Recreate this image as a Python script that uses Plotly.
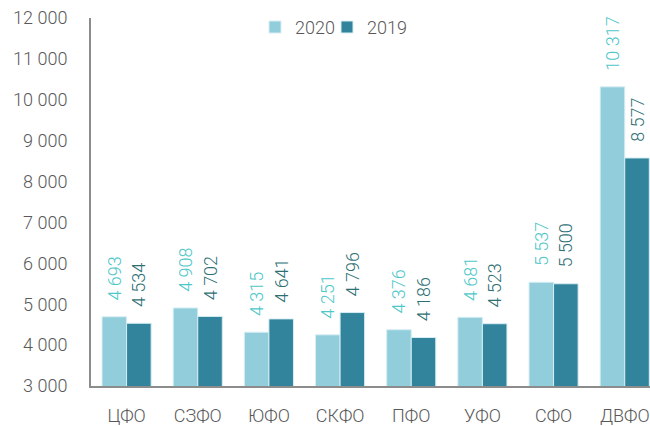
import plotly.graph_objects as go

categories = ["ЦФО", "СЗФО", "ЮФО", "СКФО", "ПФО", "УФО", "СФО", "ДВФО"]
values_2020 = [4693, 4908, 4315, 4251, 4376, 4681, 5537, 10317]
values_2019 = [4534, 4702, 4641, 4796, 4186, 4523, 5500, 8577]
y_ticks = [3000, 4000, 5000, 6000, 7000, 8000, 9000, 10000, 11000, 12000]

def fmt(v):
    return "{:,}".format(v).replace(",", "\u00a0")

def lab(v):
    return "\u00a0\u00a0\u00a0" + fmt(v)

FONT = "Roboto"
LEFT, PW = 91, 650 - 91
fig = go.Figure()
fig.add_trace(go.Bar(
    name="2020", x=categories, y=values_2020, legend="legend",
    marker=dict(color="#92CDDC", line=dict(color="#D6EEF3", width=1)),
    text=[lab(v) for v in values_2020], textposition="outside",
    textangle=-90, cliponaxis=False, constraintext="none",
    textfont=dict(family=FONT, size=18, color="#4FC7C9", weight=300),
))
fig.add_trace(go.Bar(
    name="2019", x=categories, y=values_2019, legend="legend2",
    marker=dict(color="#31849B", line=dict(color="#D6EEF3", width=1)),
    text=[lab(v) for v in values_2019], textposition="outside",
    textangle=-90, cliponaxis=False, constraintext="none",
    textfont=dict(family=FONT, size=18, color="#2E6F74", weight=300),
))

leg_font = dict(family=FONT, size=18, color="#595959", weight=300)
fig.update_layout(
    width=650, height=426,
    margin=dict(l=LEFT, r=0, t=18, b=38),
    paper_bgcolor="white", plot_bgcolor="white",
    barmode="group", bargap=0.31, bargroupgap=0,
    font=dict(family=FONT, size=18, color="#595959", weight=300),
    showlegend=True,
    legend=dict(orientation="h", x=(300 - 45 - LEFT) / PW, xanchor="left", y=1.025, yanchor="top",
                font=leg_font, bgcolor="rgba(0,0,0,0)"),
    legend2=dict(orientation="h", x=(372 - 45 - LEFT) / PW, xanchor="left", y=1.025, yanchor="top",
                 font=leg_font, bgcolor="rgba(0,0,0,0)"),
)
fig.update_xaxes(
    range=[-0.5, 7.355], showline=True, linecolor="#8C8C8C", linewidth=2,
    showgrid=False, ticks="", ticklabelstandoff=12, fixedrange=True,
)
fig.update_yaxes(
    range=[3000, 12000], tickvals=y_ticks, ticktext=[fmt(v) for v in y_ticks],
    showline=True, linecolor="#8C8C8C", linewidth=2, showgrid=False,
    ticks="", ticklabelstandoff=18, zeroline=False,
)

fig.write_html("out.html")
